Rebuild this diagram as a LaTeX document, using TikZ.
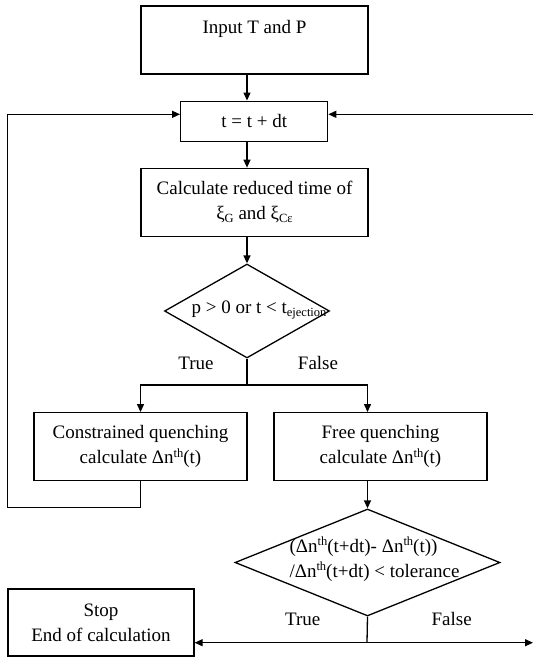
\documentclass[tikz,border=0pt]{standalone}
\usepackage{fontspec}
\setmainfont{Liberation Serif}
\usetikzlibrary{arrows.meta,shapes.geometric}
\newcommand{\mysub}[1]{\raisebox{-0.3ex}{\fontsize{12.5}{12.5}\selectfont #1}}
\newcommand{\mysup}[1]{\raisebox{0.75ex}{\fontsize{12.5}{12.5}\selectfont #1}}
\newcommand{\dn}{Δn\mysup{th}}
\begin{document}
\begin{tikzpicture}[x=1pt,y=-1pt, line width=1.3pt,
  box/.style={draw, rectangle, inner sep=0pt, align=center, font=\fontsize{19}{25}\selectfont},
  dia/.style={draw, diamond, inner sep=0pt},
  txt/.style={inner sep=0pt, align=center, font=\fontsize{19}{25}\selectfont},
  arr/.style={-{Triangle[length=8pt,width=7pt]}},
]
\useasboundingbox (0,0) rectangle (533,659);
\node[box, minimum width=227, minimum height=68] (input) at (254.5,40) {Input T and P\\[2pt] \mbox{}};
\node[box, minimum width=147, minimum height=40] (tbox) at (254.2,121.2) {t = t + dt};
\node[box, minimum width=227, minimum height=68] (calc) at (254.5,202.3) {Calculate reduced time of\\ ξ\mysub{G} and ξ\mysub{Cε}};
\node[dia, minimum width=165, minimum height=94] (d1) at (247,311) {};
\node[txt] (d1t) at (259,310) {p > 0 or t < t\mysub{ejection}};
\node[txt] (t1) at (196,363) {True};
\node[txt] (f1) at (318,363) {False};
\node[box, minimum width=213, minimum height=68] (cq) at (140.5,446.7) {Constrained quenching\\ calculate \dn(t)};
\node[box, minimum width=213, minimum height=68] (fq) at (380.5,446.7) {Free quenching\\ calculate \dn(t)};
\node[dia, minimum width=265, minimum height=107] (d2) at (367.5,562.5) {};
\node[txt, align=left] (d2t) at (374.5,559) {(\dn(t+dt)- \dn(t))\\ /\dn(t+dt) < tolerance};
\node[box, minimum width=186, minimum height=67] (stop) at (101,622.5) {Stop\\ End of calculation};
\node[txt] (t2) at (302.7,619) {True};
\node[txt] (f2) at (451.7,619) {False};
\coordinate (topR) at (533,114.3);
\coordinate (topL) at (7.7,114.3);
\coordinate (loopBL) at (7.7,507.7);
\coordinate (split) at (247,385);
\coordinate (bot) at (367,642.7);
\coordinate (botR) at (533,642.7);
\draw[arr] (input.south -| d1.north) -- (tbox.north -| d1.north);
\draw[arr] (topL) -- (tbox.west |- topL);
\draw[arr] (topR) -- (tbox.east |- topR);
\draw[arr] (tbox.south -| d1.north) -- (calc.north -| d1.north);
\draw[arr] (calc.south -| d1.north) -- (d1.north);
\draw (d1.south) -- (split);
\draw[arr] (split) -| (cq.north);
\draw[arr] (split) -| (d2.north |- fq.north);
\draw (cq.south) |- (loopBL) -- (topL);
\draw[arr] (fq.south -| d2.north) -- (d2.north);
\draw (d2.south) -- (bot);
\draw[arr] (bot) -- (stop.east |- bot);
\draw[arr] (bot) -- (botR);
\end{tikzpicture}
\end{document}
